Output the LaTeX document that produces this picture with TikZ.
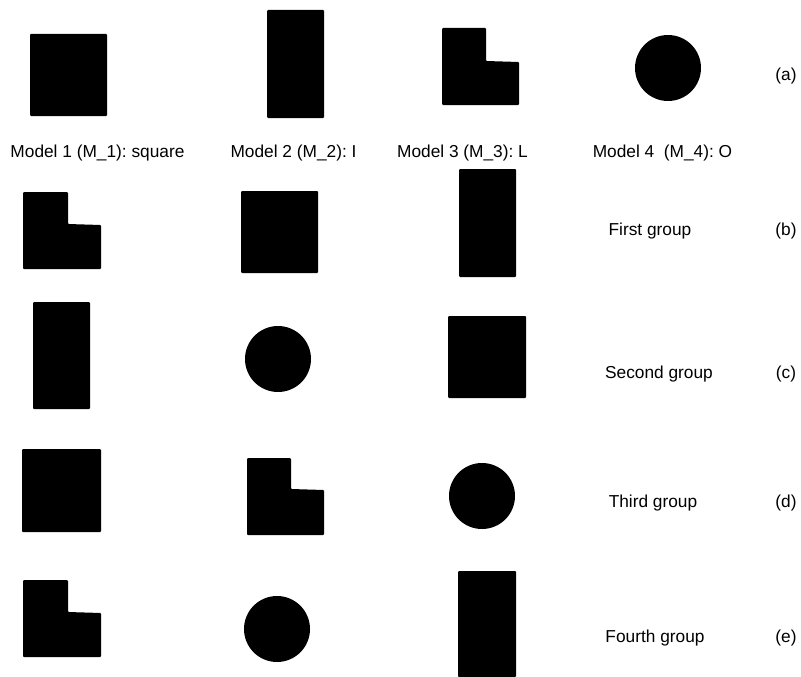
\documentclass[tikz,border=0pt]{standalone}
\usepackage{fontspec}
\setmainfont{Liberation Sans}
\usetikzlibrary{positioning}
\frenchspacing

\begin{document}
\begin{tikzpicture}[x=1pt, y=-1pt,
  lbl/.style={inner sep=0pt, font=\fontsize{17.3}{20}\selectfont},
  tag/.style={lbl},
  blob/.style={fill=black, rounded corners=1pt}]
\useasboundingbox (0,0) rectangle (801,677);
% Row (a): the four models.
\fill[blob] (30,34) rectangle (107,116);
\fill[blob] (267,10) rectangle (324,118);
\fill[blob] (442,28) -- (486,28) -- (486,61) -- (519,62) -- (519,105) -- (442,105) -- cycle;
\fill (668,68) circle[radius=33];
\node[tag] (taga) at (786,76) {(a)};
\node[lbl] (m1) at (97.5,153) {Model 1 (M\_1): square};
\node[lbl] (m2) at (293.5,153) {Model 2 (M\_2): I};
\node[lbl] (m3) at (462.5,153) {Model 3 (M\_3): L};
\node[lbl] (m4) at (662.5,153) {Model 4\ \ (M\_4): O};
% Row (b).
\fill[blob] (23,192) -- (68,192) -- (68,224) -- (101,225) -- (101,269) -- (23,269) -- cycle;
\fill[blob] (241,191) rectangle (318,273);
\fill[blob] (459,169) rectangle (516,277);
\node[lbl] (g1) at (650,231) {First group};
\node[tag] (tagb) at (786,231) {(b)};
% Row (c).
\fill[blob] (33,302) rectangle (90,409);
\fill (278,359) circle[radius=33];
\fill[blob] (448,316) rectangle (526,398);
\node[lbl] (g2) at (659,374) {Second group};
\node[tag] (tagc) at (786,374) {(c)};
% Row (d).
\fill[blob] (22,449) rectangle (101,532);
\fill[blob] (247,458) -- (291,458) -- (291,489) -- (324,490) -- (324,535) -- (247,535) -- cycle;
\fill (482,496) circle[radius=33];
\node[lbl] (g3) at (653,503) {Third group};
\node[tag] (tagd) at (786,503) {(d)};
% Row (e).
\fill[blob] (23,580) -- (68,580) -- (68,612) -- (101,613) -- (101,657) -- (23,657) -- cycle;
\fill (277,629) circle[radius=33];
\fill[blob] (458,571) rectangle (516,677);
\node[lbl] (g4) at (655,638) {Fourth group};
\node[tag] (tage) at (786,638) {(e)};
\end{tikzpicture}
\end{document}
